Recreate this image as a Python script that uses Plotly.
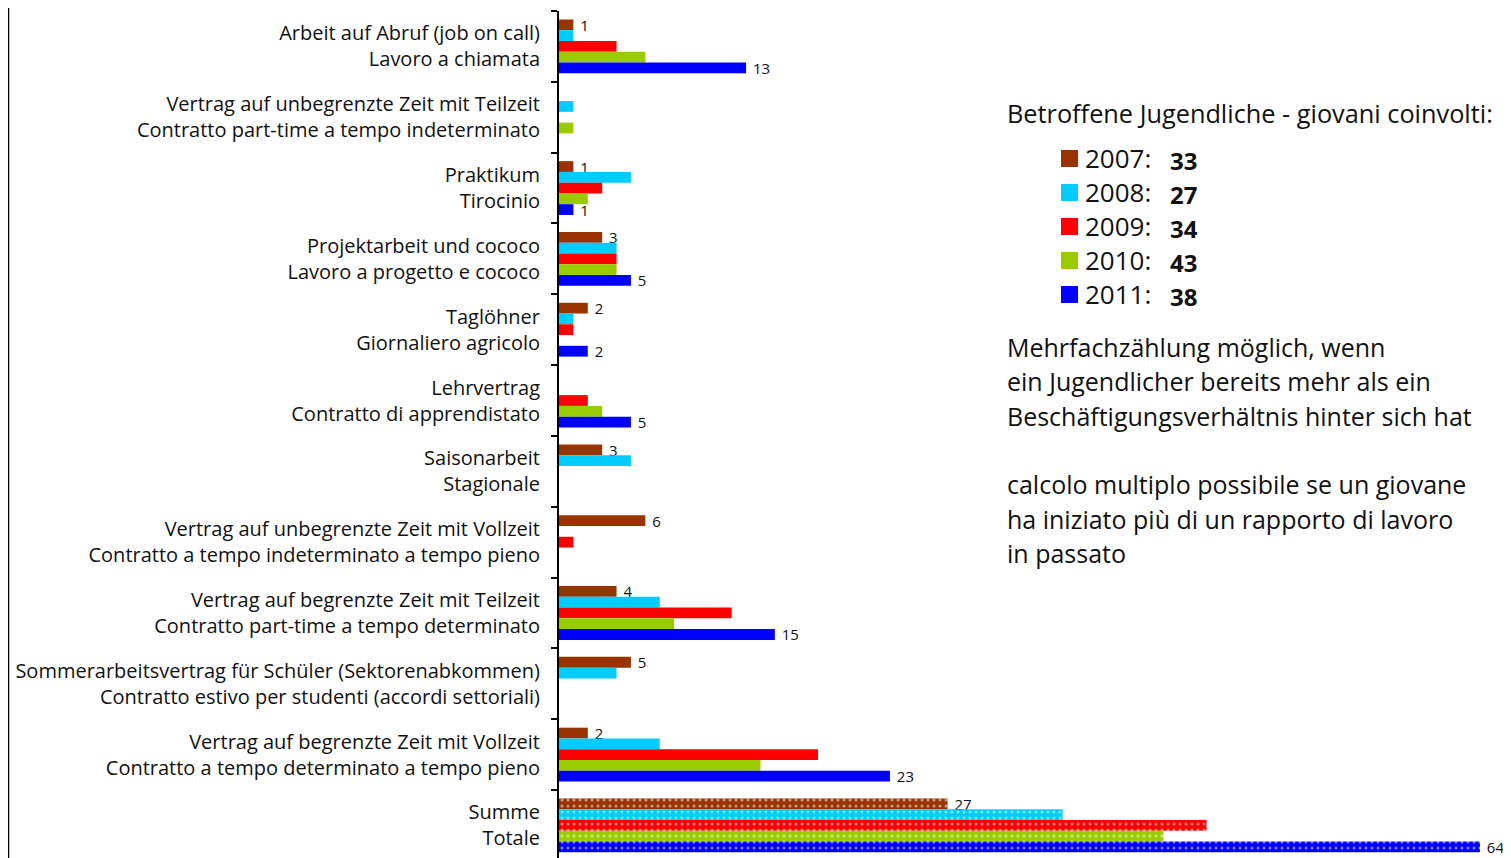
import plotly.graph_objects as go

categories = [
    "Arbeit auf Abruf (job on call)<br>Lavoro a chiamata",
    "Vertrag auf unbegrenzte Zeit mit Teilzeit<br>Contratto part-time a tempo indeterminato",
    "Praktikum<br>Tirocinio",
    "Projektarbeit und cococo<br>Lavoro a progetto e cococo",
    "Taglöhner<br>Giornaliero agricolo",
    "Lehrvertrag<br>Contratto di apprendistato",
    "Saisonarbeit<br>Stagionale",
    "Vertrag auf unbegrenzte Zeit mit Vollzeit<br>Contratto a tempo indeterminato a tempo pieno",
    "Vertrag auf begrenzte Zeit mit Teilzeit<br>Contratto part-time a tempo determinato",
    "Sommerarbeitsvertrag für Schüler (Sektorenabkommen)<br>Contratto estivo per studenti (accordi settoriali)",
    "Vertrag auf begrenzte Zeit mit Vollzeit<br>Contratto a tempo determinato a tempo pieno",
    "Summe<br>Totale",
]

years = ["2007", "2008", "2009", "2010", "2011"]
v2007 = [1, 0, 1, 3, 2, 0, 3, 6, 4, 5, 2, 27]
v2008 = [1, 1, 5, 4, 1, 0, 5, 0, 7, 4, 7, 35]
v2009 = [4, 0, 3, 4, 1, 2, 0, 1, 12, 0, 18, 45]
v2010 = [6, 1, 2, 4, 0, 3, 0, 0, 8, 0, 14, 42]
v2011 = [13, 0, 1, 5, 2, 5, 0, 0, 15, 0, 23, 64]
youths = [33, 27, 34, 43, 38]
labelled = [True, False, False, False, True]

colors = ["#993300", "#00CCFF", "#FF0000", "#99CC00", "#0000FF"]
series = [v2007, v2008, v2009, v2010, v2011]

note_lines = [
    "Mehrfachzählung möglich, wenn",
    "ein Jugendlicher bereits mehr als ein",
    "Beschäftigungsverhältnis hinter sich hat",
    "",
    "calcolo multiplo possibile se un giovane",
    "ha iniziato più di un rapporto di lavoro",
    "in passato",
]
legend_title = "Betroffene Jugendliche - giovani coinvolti:"

FONT = "Open Sans"
OFF = 8  # page body margin
W, H = 1503, 850
ML, MR, MT, MB = 551, 0, 3, 0
PW, PH = W - ML - MR, H - MT - MB

def px(x):
    return (x - OFF - ML) / PW

def py(y):
    return (H - MB - (y - OFF)) / PH

fig = go.Figure()
n = len(categories)
for yr, vals, col, lab in zip(years, series, colors, labelled):
    shapes = ["." if i == n - 1 else "" for i in range(n)]
    txt = [(" " + str(v)) if (lab and v != 0) else "" for v in vals]
    fig.add_trace(go.Bar(
        y=categories, x=vals, orientation="h", name=yr,
        marker=dict(color=col, line=dict(width=0),
                    pattern=dict(shape=shapes, fgcolor="white", bgcolor=col,
                                 size=6, solidity=0.2, fillmode="overlay")),
        text=txt, textposition="outside", cliponaxis=False,
        constraintext="none",
        textfont=dict(family=FONT, size=15, color="#111111"),
        showlegend=False,
    ))

fig.update_layout(
    width=W, height=H,
    margin=dict(l=ML, r=MR, t=MT, b=MB, pad=0),
    paper_bgcolor="white", plot_bgcolor="white",
    barmode="group", bargap=0.24, bargroupgap=0,
    font=dict(family=FONT, size=20, color="#111111"),
    xaxis=dict(range=[0, 66.16], visible=False, showgrid=False, zeroline=False),
    yaxis=dict(
        range=[11.46, -0.5], showline=True, linewidth=2, linecolor="black",
        ticks="outside", ticklen=6, tickwidth=2, tickcolor="black",
        tickson="boundaries", showgrid=False, zeroline=False,
        ticklabelstandoff=13,
        tickfont=dict(family=FONT, size=20, color="#111111"),
    ),
)

fig.add_shape(type="line", xref="paper", yref="paper",
              x0=px(8), x1=px(8), y0=py(0), y1=py(870),
              line=dict(color="black", width=2.5))

fig.add_annotation(xref="paper", yref="paper", x=px(1005), y=py(113),
                   xanchor="left", yanchor="middle", showarrow=False,
                   text=legend_title, font=dict(family=FONT, size=25.3, color="#111111"))

row_y = [158, 192, 226, 260, 294]
for yr, num, col, yy in zip(years, youths, colors, row_y):
    fig.add_shape(type="rect", xref="paper", yref="paper",
                  x0=px(1061), x1=px(1078), y0=py(yy - 8), y1=py(yy + 9),
                  fillcolor=col, line=dict(width=0))
    fig.add_annotation(xref="paper", yref="paper", x=px(1083), y=py(yy),
                       xanchor="left", yanchor="middle", showarrow=False,
                       text=yr + ":", font=dict(family=FONT, size=26, color="#111111"))
    fig.add_annotation(xref="paper", yref="paper", x=px(1168), y=py(yy + 2),
                       xanchor="left", yanchor="middle", showarrow=False,
                       text="<b>" + str(num) + "</b>",
                       font=dict(family=FONT, size=24, color="#111111"))

for i, line in enumerate(note_lines):
    if not line:
        continue
    fig.add_annotation(xref="paper", yref="paper", x=px(1005), y=py(347 + 34.3 * i),
                       xanchor="left", yanchor="middle", showarrow=False,
                       text=line, font=dict(family=FONT, size=25, color="#111111"))

fig.write_html("out.html")
